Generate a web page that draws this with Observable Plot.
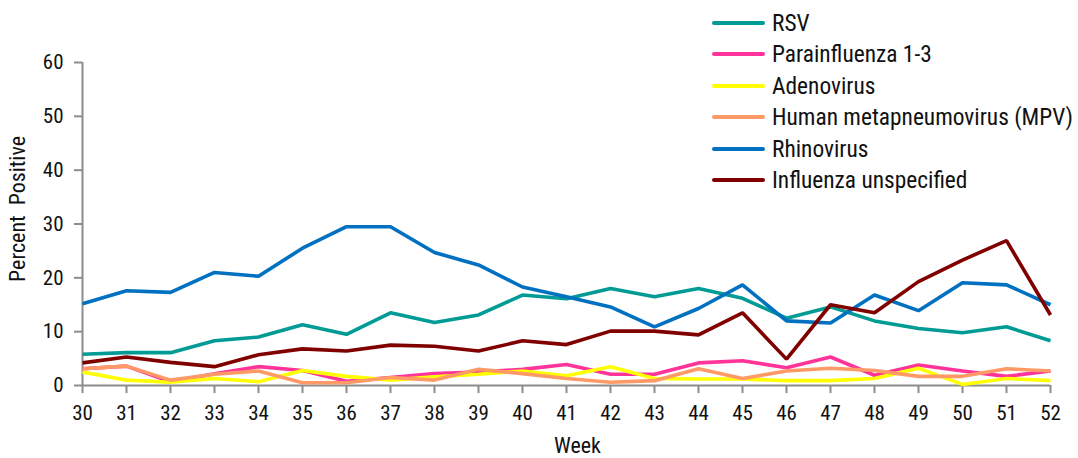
<!DOCTYPE html>
<html>
<head>
<meta charset="utf-8">
<script src="https://cdn.jsdelivr.net/npm/d3@7"></script>
<script src="https://cdn.jsdelivr.net/npm/@observablehq/plot@0.6"></script>
<style>
  body { margin: 0; background: #fff; }
  #wrap { position: relative; width: 1078px; height: 458px; font-family: "Roboto Condensed", "Liberation Sans Narrow", "DejaVu Sans Condensed", Roboto, sans-serif; }
  #legend { position: absolute; left: 712px; top: 7px; font-size: 23.4px; color: #111; }
  .row { display: flex; align-items: center; height: 31.5px; white-space: nowrap; }
  .sw { width: 53px; height: 4px; margin-right: 7px; border-radius: 2px; }
</style>
</head>
<body>
<div id="wrap"></div>
<script>
const weeks = [30,31,32,33,34,35,36,37,38,39,40,41,42,43,44,45,46,47,48,49,50,51,52];
const seriesNames = ["RSV","Parainfluenza 1-3","Adenovirus","Human metapneumovirus (MPV)","Rhinovirus","Influenza unspecified"];
const seriesColors = ["#009b94","#ff3399","#ffff00","#ff9966","#0070c0","#800000"];
const rsv   = [5.8,6.1,6.1,8.3,9.0,11.3,9.5,13.5,11.7,13.1,16.8,16.1,18.0,16.5,18.0,16.2,12.5,14.6,12.0,10.6,9.8,10.9,8.3];
const para  = [3.1,3.6,0.7,2.2,3.5,2.8,0.8,1.5,2.2,2.5,3.0,3.9,2.1,2.1,4.2,4.6,3.3,5.3,1.9,3.8,2.7,1.7,2.7];
const adeno = [2.5,1.0,0.6,1.3,0.7,2.8,1.7,1.0,1.6,2.1,2.7,1.8,3.5,1.3,1.2,1.2,0.9,0.9,1.3,3.2,0.2,1.3,0.9];
const mpv   = [3.1,3.6,1.0,2.1,2.7,0.5,0.5,1.5,1.0,3.0,2.2,1.3,0.6,0.9,3.1,1.3,2.7,3.2,2.8,1.7,1.7,3.1,2.7];
const rhino = [15.2,17.6,17.3,21.0,20.3,25.5,29.5,29.5,24.7,22.4,18.3,16.5,14.6,10.9,14.3,18.7,12.0,11.6,16.8,13.9,19.1,18.7,15.0];
const flu   = [4.2,5.3,4.3,3.5,5.7,6.8,6.4,7.5,7.3,6.4,8.3,7.6,10.1,10.1,9.4,13.5,4.9,15.0,13.5,19.3,23.3,26.9,13.1];
const yTicks = [0,10,20,30,40,50,60];

const allSeries = [rsv, para, adeno, mpv, rhino, flu];
const rows = [];
allSeries.forEach((vals, i) => vals.forEach((v, j) => rows.push({series: seriesNames[i], week: weeks[j], value: v})));

const axisColor = "#8c8c8c";
const chart = Plot.plot({
  width: 1078,
  height: 458,
  marginLeft: 82,
  marginRight: 28,
  marginTop: 62,
  marginBottom: 73,
  style: { fontFamily: "'Roboto Condensed', 'Liberation Sans Narrow', 'DejaVu Sans Condensed', Roboto, sans-serif", fontSize: "21px", color: "#111", background: "#fff" },
  x: { domain: [30, 52] },
  y: { domain: [0, 60] },
  color: { domain: seriesNames, range: seriesColors },
  marks: [
    Plot.ruleX([30], { stroke: axisColor, strokeWidth: 2 }),
    Plot.ruleY([0], { stroke: axisColor, strokeWidth: 2 }),
    Plot.axisY({ ticks: yTicks, tickSize: 8, tickPadding: 11, stroke: axisColor, strokeWidth: 2, label: null, fontSize: 21 }),
    Plot.axisX({ ticks: weeks, tickSize: 8, tickPadding: 12, stroke: axisColor, strokeWidth: 2, label: null, tickFormat: d => String(d), fontSize: 21 }),
    Plot.lineY(rows, { x: "week", y: "value", z: "series", stroke: "series", strokeWidth: 3.6, strokeLinejoin: "miter", strokeLinecap: "butt" }),
    Plot.text(["Week"], { frameAnchor: "bottom", dx: 11, dy: 67, text: d => d, fontSize: 22 }),
    Plot.text(["Percent  Positive"], { frameAnchor: "left", textAnchor: "middle", rotate: -90, dx: -65, dy: -15, text: d => d, fontSize: 22 })
  ]
});
const wrap = document.getElementById("wrap");
wrap.appendChild(chart);

const legend = document.createElement("div");
legend.id = "legend";
seriesNames.forEach((n, i) => {
  const r = document.createElement("div");
  r.className = "row";
  const sw = document.createElement("div");
  sw.className = "sw";
  sw.style.background = seriesColors[i];
  const t = document.createElement("span");
  t.textContent = n;
  r.appendChild(sw); r.appendChild(t);
  legend.appendChild(r);
});
wrap.appendChild(legend);
</script>
</body>
</html>
